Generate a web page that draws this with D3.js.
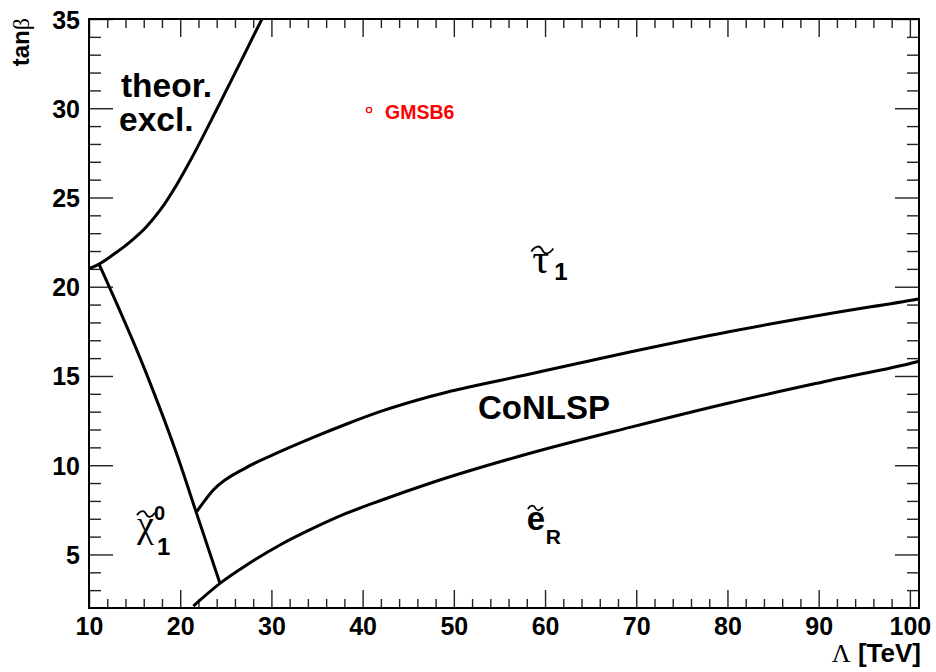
<!DOCTYPE html>
<html>
<head>
<meta charset="utf-8">
<script src="https://cdn.jsdelivr.net/npm/d3@7"></script>
<style>
  body { margin: 0; background: #fff; }
  text { font-family: "Liberation Sans", Arial, Helvetica, sans-serif; font-weight: bold; }
  .greek { font-family: "Liberation Serif", "Times New Roman", serif; font-weight: normal; }
</style>
</head>
<body>
<svg id="chart" width="936" height="672"></svg>
<script>
// Axis ticks
const lambdaMajor = [10, 20, 30, 40, 50, 60, 70, 80, 90, 100];
const lambdaMinor = [12, 14, 16, 18, 22, 24, 26, 28, 32, 34, 36, 38, 42, 44, 46, 48, 52, 54, 56, 58,
                     62, 64, 66, 68, 72, 74, 76, 78, 82, 84, 86, 88, 92, 94, 96, 98];
const tanbMajor = [5, 10, 15, 20, 25, 30, 35];
const tanbMinor = [3, 4, 6, 7, 8, 9, 11, 12, 13, 14, 16, 17, 18, 19, 21, 22, 23, 24,
                   26, 27, 28, 29, 31, 32, 33, 34];

// Boundary of the theoretically excluded region
const theorLambda = [10.0, 11.10, 12.63, 14.31, 16.30, 17.82, 19.60, 21.14, 23.97, 26.72, 28.91, 28.97];
const theorTanb   = [21.02, 21.27, 21.79, 22.43, 23.36, 24.30, 25.70, 27.10, 29.90, 32.70, 34.94, 35.0];

// Neutralino NLSP boundary
const chiLambda = [11.1, 16.14, 19.98, 21.73, 24.36];
const chiTanb   = [21.27, 15.33, 10.1, 7.4, 3.38];

// Upper edge of the co-NLSP band (stau side)
const upperLambda = [21.81, 23.63, 27.29, 30.94, 34.59, 38.25, 41.90, 47.39, 58.35, 69.31, 80.28, 91.24, 100.78, 101.0];
const upperTanb   = [7.40, 8.61, 9.88, 10.76, 11.56, 12.31, 13.0, 13.85, 15.11, 16.34, 17.49, 18.50, 19.30, 19.32];

// Lower edge of the co-NLSP band (selectron side)
const lowerLambda = [21.44, 24.36, 27.29, 30.94, 34.59, 38.25, 41.90, 47.39, 58.35, 69.31, 80.28, 91.24, 100.78, 101.0];
const lowerTanb   = [2.11, 3.38, 4.41, 5.53, 6.47, 7.31, 8.01, 8.99, 10.67, 12.12, 13.50, 14.75, 15.80, 15.83];

// Benchmark point
const benchName = "GMSB6";
const benchLambda = 40.7;
const benchTanb = 29.9;

const svg = d3.select("#chart");
const plotL = 89, plotR = 919, plotT = 19, plotB = 608;

const x = d3.scaleLinear().domain([10, 101]).range([plotL, plotR]);
const y = d3.scaleLinear().domain([2, 35]).range([plotB, plotT]);

// Ticks on all four sides, pointing inwards
function tickAxis(axisFn, scale, values, size, translate, labels) {
  const ax = axisFn(scale).tickValues(values).tickSize(-size).tickPadding(0);
  if (!labels) ax.tickFormat("");
  const g = svg.append("g").attr("transform", translate).call(ax);
  g.select(".domain").remove();
  g.selectAll(".tick line").attr("stroke", "#222").attr("stroke-width", 1.4);
  return g;
}

const xb = tickAxis(d3.axisBottom, x, lambdaMajor, 18, `translate(0,${plotB})`, true);
tickAxis(d3.axisBottom, x, lambdaMinor, 9, `translate(0,${plotB})`, false);
tickAxis(d3.axisTop, x, lambdaMajor, 18, `translate(0,${plotT})`, false);
tickAxis(d3.axisTop, x, lambdaMinor, 9, `translate(0,${plotT})`, false);
const yl = tickAxis(d3.axisLeft, y, tanbMajor, 24, `translate(${plotL},0)`, true);
tickAxis(d3.axisLeft, y, tanbMinor, 12, `translate(${plotL},0)`, false);
tickAxis(d3.axisRight, y, tanbMajor, 24, `translate(${plotR},0)`, false);
tickAxis(d3.axisRight, y, tanbMinor, 12, `translate(${plotR},0)`, false);

xb.selectAll(".tick text")
  .attr("y", 27).attr("dy", 0)
  .attr("font-size", 25).attr("fill", "#000")
  .style("font-family", '"Liberation Sans", Arial, sans-serif').style("font-weight", "bold");
yl.selectAll(".tick text")
  .attr("x", -9).attr("dy", "0.36em")
  .attr("font-size", 25).attr("fill", "#000")
  .style("font-family", '"Liberation Sans", Arial, sans-serif').style("font-weight", "bold");

// Frame
svg.append("rect")
  .attr("x", plotL).attr("y", plotT)
  .attr("width", plotR - plotL).attr("height", plotB - plotT)
  .attr("fill", "none").attr("stroke", "#000").attr("stroke-width", 2);

// Boundary curves
svg.append("clipPath").attr("id", "plotclip")
  .append("rect").attr("x", plotL).attr("y", plotT)
  .attr("width", plotR - plotL).attr("height", plotB - plotT);

const line = d3.line().x(d => x(d[0])).y(d => y(d[1])).curve(d3.curveMonotoneX);
const curves = [
  [theorLambda, theorTanb],
  [chiLambda, chiTanb],
  [upperLambda, upperTanb],
  [lowerLambda, lowerTanb]
];
svg.append("g").attr("clip-path", "url(#plotclip)")
  .selectAll("path").data(curves).join("path")
  .attr("d", c => line(d3.zip(c[0], c[1])))
  .attr("fill", "none").attr("stroke", "#000").attr("stroke-width", 3)
  .attr("stroke-linejoin", "round");

// Benchmark marker and name
svg.append("circle")
  .attr("cx", x(benchLambda)).attr("cy", y(benchTanb)).attr("r", 2.6)
  .attr("fill", "none").attr("stroke", "#ff0000").attr("stroke-width", 1.3);
svg.append("text")
  .attr("x", x(benchLambda) + 16).attr("y", y(benchTanb) + 9)
  .attr("font-size", 19.5).attr("fill", "#ff0000").text(benchName);

// Region labels
svg.append("text").attr("x", x(13.5)).attr("y", y(30.63))
  .attr("font-size", 33.5).text("theor.");
svg.append("text").attr("x", x(13.3)).attr("y", y(28.72))
  .attr("font-size", 33.5).text("excl.");
svg.append("text").attr("x", x(52.65)).attr("y", y(12.59))
  .attr("font-size", 33).text("CoNLSP");

// Wavy accent drawn over a symbol
function tilde(g, dx, dy, w) {
  const h = w * 0.22;
  g.append("path")
    .attr("d", `M${dx},${dy + h * 0.3} C${dx + w * 0.2},${dy - h} ${dx + w * 0.4},${dy - h} ${dx + w * 0.5},${dy}` +
               ` S${dx + w * 0.8},${dy + h} ${dx + w},${dy - h * 0.3}`)
    .attr("fill", "none").attr("stroke", "#000").attr("stroke-width", 1.8);
}

// stau
const tau = svg.append("g").attr("transform", `translate(${x(58.6)},${y(20.77)})`);
tau.append("text").attr("class", "greek").attr("font-size", 42).text("τ");
tilde(tau, -1, -23, 22);
tau.append("text").attr("x", 22).attr("y", 7).attr("font-size", 24).text("1");

// selectron
const sel = svg.append("g").attr("transform", `translate(${x(58.0)},${y(6.37)})`);
sel.append("text").attr("font-size", 33).text("e");
tilde(sel, 1, -22, 15);
sel.append("text").attr("x", 19).attr("y", 14).attr("font-size", 21).text("R");

// neutralino
const chi = svg.append("g").attr("transform", `translate(${x(15.26)},${y(5.98)})`);
chi.append("text").attr("class", "greek").attr("font-size", 38).text("χ");
tilde(chi, 0, -23, 18);
chi.append("text").attr("x", 17).attr("y", -17).attr("font-size", 20).text("0");
chi.append("text").attr("x", 20).attr("y", 18).attr("font-size", 24).text("1");

// Axis titles
const xt = svg.append("text").attr("x", 921).attr("y", 662)
  .attr("text-anchor", "end").attr("font-size", 26);
xt.append("tspan").attr("class", "greek").text("Λ");
xt.append("tspan").text(" [TeV]");

const yt = svg.append("text")
  .attr("transform", "translate(29,18) rotate(-90)")
  .attr("text-anchor", "end").attr("font-size", 24);
yt.append("tspan").text("tan");
yt.append("tspan").attr("class", "greek").text("β");
</script>
</body>
</html>
